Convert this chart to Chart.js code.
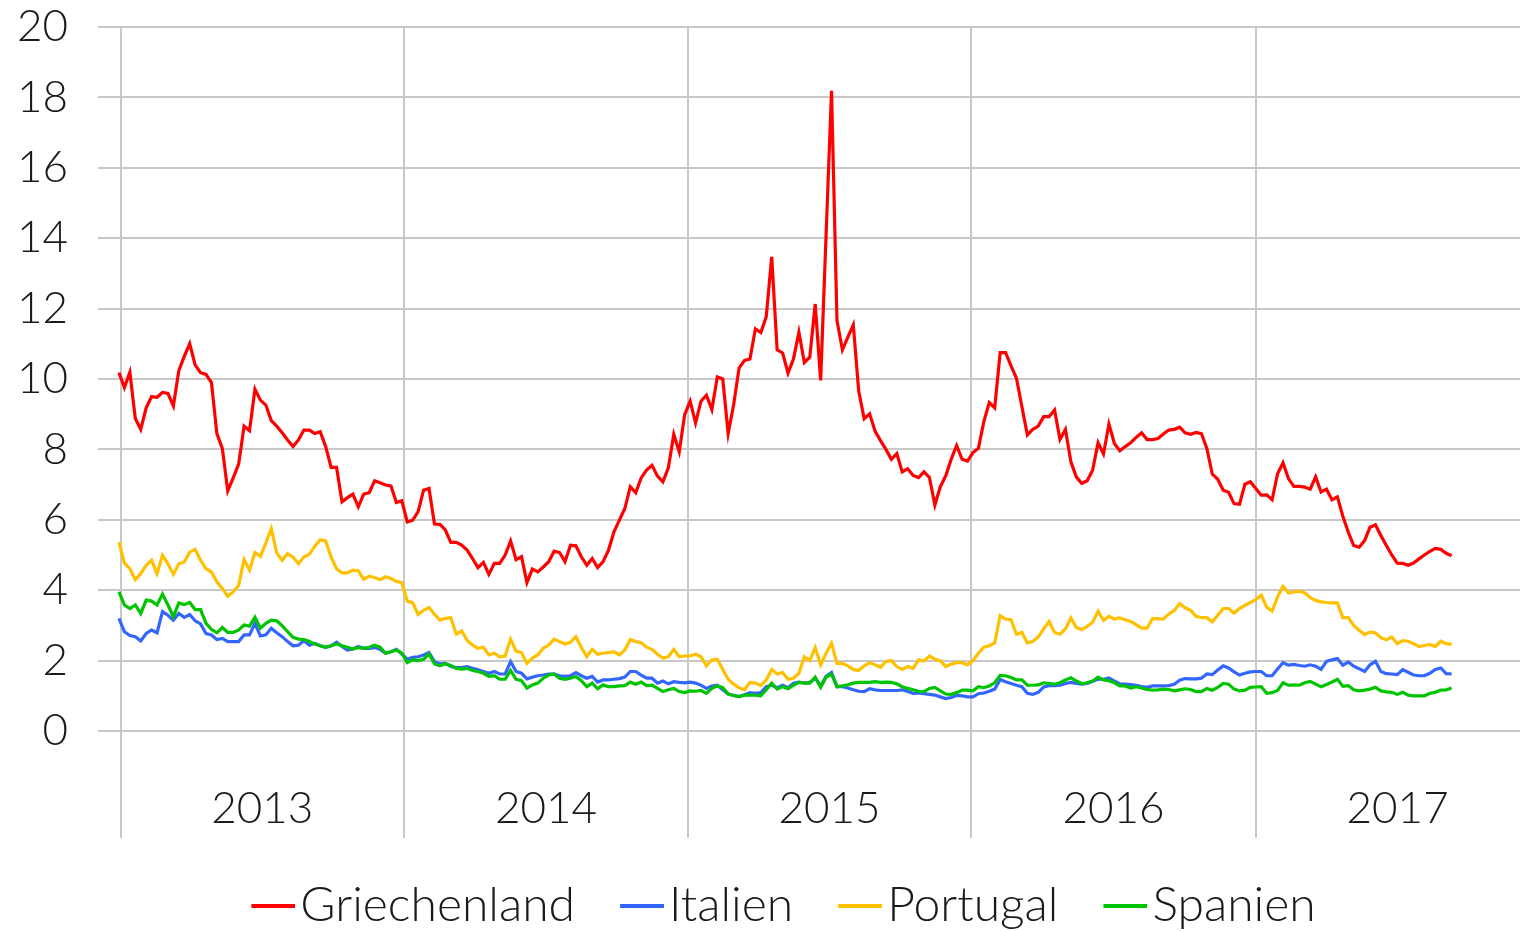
<!DOCTYPE html>
<html>
<head>
<meta charset="utf-8">
<script src="https://cdn.jsdelivr.net/npm/chart.js@4/dist/chart.umd.min.js"></script>
<style>
  html, body { margin: 0; padding: 0; background: #fff; }
  #wrap { width: 1521px; height: 932px; position: relative; }
</style>
</head>
<body>
<div id="wrap"><canvas id="chart"></canvas></div>
<script>
// weekly yields (%), one value per week starting end of Dec 2012
const griechenland = [
  10.18, 9.76, 10.19, 8.88, 8.57, 9.18, 9.50, 9.48, 9.62, 9.59, 9.23, 10.24, 10.64, 11.0, 10.4, 10.18, 10.13, 9.90, 8.45, 8.03,
  6.82, 7.19, 7.58, 8.66, 8.53, 9.71, 9.40, 9.26, 8.82, 8.66, 8.47, 8.27, 8.08, 8.27, 8.55, 8.55, 8.45, 8.50, 8.08, 7.49,
  7.49, 6.51, 6.63, 6.73, 6.37, 6.73, 6.77, 7.11, 7.05, 6.99, 6.96, 6.49, 6.54,
  // 2014
  5.94, 5.99, 6.23, 6.84, 6.89, 5.88, 5.87, 5.71, 5.36, 5.36, 5.28, 5.14, 4.90, 4.64, 4.79, 4.45, 4.76, 4.76, 5.00, 5.40,
  4.87, 4.95, 4.22, 4.60, 4.52, 4.66, 4.81, 5.11, 5.07, 4.81, 5.28, 5.26, 4.95, 4.71, 4.90, 4.64, 4.81, 5.14, 5.66, 5.99,
  6.32, 6.94, 6.77, 7.19, 7.41, 7.55, 7.24, 7.08, 7.48, 8.43, 7.93, 8.99,
  // 2015
  9.37, 8.75, 9.37, 9.54, 9.13, 10.06, 10.0, 8.45, 9.27, 10.31, 10.53, 10.57, 11.42, 11.32, 11.77, 13.47, 10.83, 10.74, 10.17, 10.57,
  11.33, 10.47, 10.62, 12.13, 9.96, 14.1, 18.19, 11.66, 10.83, 11.19, 11.54, 9.65, 8.87, 9.01, 8.52, 8.25, 8.0, 7.72, 7.88, 7.36,
  7.45, 7.26, 7.20, 7.36, 7.20, 6.42, 6.94, 7.25, 7.72, 8.11, 7.72, 7.67,
  // 2016
  7.91, 8.03, 8.79, 9.33, 9.18, 10.75, 10.75, 10.37, 10.02, 9.21, 8.41, 8.57, 8.66, 8.93, 8.93, 9.12, 8.28, 8.57, 7.65, 7.22,
  7.03, 7.11, 7.41, 8.19, 7.87, 8.72, 8.17, 7.96, 8.08, 8.19, 8.34, 8.47, 8.28, 8.28, 8.31, 8.44, 8.55, 8.57, 8.63, 8.47,
  8.43, 8.48, 8.45, 8.03, 7.30, 7.15, 6.84, 6.78, 6.46, 6.44, 7.01, 7.08,
  // 2017
  6.89, 6.70, 6.71, 6.57, 7.31, 7.62, 7.17, 6.95, 6.95, 6.93, 6.87, 7.22, 6.79, 6.87, 6.57, 6.65, 6.10, 5.65, 5.27, 5.22,
  5.41, 5.79, 5.86, 5.55, 5.27, 5.0, 4.77, 4.76, 4.71, 4.77, 4.89, 5.0, 5.10, 5.19, 5.16, 5.05, 4.98,
];

const italien = [
  3.20, 2.82, 2.71, 2.68, 2.56, 2.77, 2.87, 2.79, 3.39, 3.29, 3.15, 3.34, 3.23, 3.31, 3.13, 3.04, 2.77, 2.73, 2.60, 2.63,
  2.54, 2.54, 2.54, 2.73, 2.73, 3.06, 2.70, 2.73, 2.92, 2.79, 2.68, 2.54, 2.42, 2.44, 2.57, 2.44, 2.49, 2.42, 2.38, 2.42,
  2.52, 2.40, 2.30, 2.33, 2.40, 2.35, 2.35, 2.37, 2.32, 2.21, 2.25, 2.32, 2.19,
  // 2014
  2.04, 2.09, 2.11, 2.16, 2.23, 1.97, 1.91, 1.92, 1.83, 1.80, 1.80, 1.83, 1.78, 1.74, 1.69, 1.64, 1.69, 1.62, 1.62, 1.97,
  1.69, 1.64, 1.48, 1.53, 1.57, 1.59, 1.62, 1.62, 1.57, 1.55, 1.57, 1.66, 1.57, 1.50, 1.55, 1.39, 1.45, 1.45, 1.47, 1.49,
  1.53, 1.69, 1.69, 1.59, 1.50, 1.50, 1.36, 1.42, 1.34, 1.40, 1.38, 1.37,
  // 2015
  1.39, 1.36, 1.30, 1.21, 1.28, 1.30, 1.17, 1.05, 1.01, 0.98, 1.03, 1.09, 1.07, 1.09, 1.26, 1.30, 1.23, 1.30, 1.23, 1.36,
  1.39, 1.36, 1.38, 1.50, 1.28, 1.55, 1.66, 1.26, 1.26, 1.22, 1.17, 1.13, 1.12, 1.20, 1.17, 1.15, 1.15, 1.15, 1.15, 1.17,
  1.12, 1.07, 1.08, 1.06, 1.04, 1.02, 0.97, 0.92, 0.95, 1.01, 1.0, 0.97,
  // 2016
  0.97, 1.06, 1.08, 1.13, 1.19, 1.46, 1.40, 1.35, 1.30, 1.26, 1.07, 1.04, 1.10, 1.25, 1.29, 1.29, 1.30, 1.35, 1.38, 1.35,
  1.33, 1.35, 1.41, 1.47, 1.47, 1.51, 1.42, 1.34, 1.33, 1.32, 1.30, 1.26, 1.24, 1.28, 1.28, 1.28, 1.29, 1.33, 1.44, 1.49,
  1.48, 1.48, 1.50, 1.62, 1.60, 1.73, 1.85, 1.79, 1.68, 1.59, 1.64, 1.68,
  // 2017
  1.69, 1.69, 1.57, 1.57, 1.76, 1.94, 1.87, 1.89, 1.86, 1.84, 1.88, 1.84, 1.75, 1.98, 2.02, 2.06, 1.87, 1.96, 1.84, 1.77,
  1.69, 1.88, 1.98, 1.69, 1.63, 1.62, 1.60, 1.74, 1.67, 1.59, 1.57, 1.57, 1.64, 1.75, 1.79, 1.63, 1.62,
];

const portugal = [
  5.37, 4.77, 4.61, 4.30, 4.47, 4.71, 4.85, 4.47, 4.99, 4.75, 4.45, 4.75, 4.80, 5.08, 5.16, 4.85, 4.61, 4.52, 4.24, 4.05,
  3.83, 3.95, 4.14, 4.87, 4.57, 5.07, 4.96, 5.34, 5.75, 5.06, 4.85, 5.04, 4.94, 4.75, 4.94, 5.02, 5.25, 5.43, 5.40, 4.94,
  4.61, 4.49, 4.49, 4.57, 4.55, 4.31, 4.40, 4.36, 4.30, 4.38, 4.33, 4.25, 4.21,
  // 2014
  3.69, 3.64, 3.31, 3.43, 3.51, 3.32, 3.15, 3.20, 3.22, 2.75, 2.84, 2.58, 2.44, 2.35, 2.38, 2.16, 2.21, 2.11, 2.13, 2.61,
  2.27, 2.23, 1.92, 2.07, 2.16, 2.35, 2.44, 2.61, 2.54, 2.47, 2.52, 2.68, 2.37, 2.11, 2.32, 2.18, 2.21, 2.23, 2.25, 2.16,
  2.30, 2.60, 2.54, 2.51, 2.38, 2.32, 2.18, 2.07, 2.11, 2.32, 2.11, 2.13,
  // 2015
  2.13, 2.18, 2.11, 1.85, 2.02, 2.04, 1.75, 1.47, 1.33, 1.23, 1.17, 1.38, 1.36, 1.29, 1.45, 1.75, 1.62, 1.66, 1.47, 1.50,
  1.64, 2.11, 2.0, 2.37, 1.88, 2.21, 2.49, 1.92, 1.92, 1.85, 1.75, 1.72, 1.85, 1.94, 1.88, 1.81, 1.97, 2.0, 1.83, 1.75,
  1.83, 1.78, 2.02, 1.99, 2.13, 2.04, 2.0, 1.83, 1.90, 1.94, 1.94, 1.88,
  // 2016
  2.0, 2.21, 2.38, 2.42, 2.50, 3.28, 3.18, 3.16, 2.75, 2.80, 2.50, 2.54, 2.67, 2.90, 3.11, 2.80, 2.75, 2.90, 3.21, 2.94,
  2.88, 2.97, 3.09, 3.40, 3.14, 3.26, 3.18, 3.21, 3.16, 3.11, 3.02, 2.92, 2.92, 3.19, 3.19, 3.18, 3.32, 3.42, 3.62, 3.50,
  3.43, 3.26, 3.22, 3.22, 3.10, 3.29, 3.48, 3.48, 3.35, 3.48, 3.57, 3.65,
  // 2017
  3.73, 3.86, 3.52, 3.41, 3.81, 4.11, 3.92, 3.95, 3.97, 3.92, 3.79, 3.71, 3.67, 3.65, 3.64, 3.64, 3.22, 3.22, 3.0, 2.86,
  2.74, 2.81, 2.79, 2.65, 2.59, 2.67, 2.48, 2.57, 2.55, 2.48, 2.40, 2.43, 2.46, 2.40, 2.55, 2.48, 2.46,
];

const spanien = [
  3.95, 3.58, 3.48, 3.58, 3.34, 3.72, 3.69, 3.58, 3.89, 3.58, 3.25, 3.64, 3.59, 3.65, 3.45, 3.45, 3.06, 2.89, 2.79, 2.94,
  2.80, 2.80, 2.87, 3.01, 2.98, 3.23, 2.92, 3.06, 3.15, 3.13, 2.99, 2.82, 2.66, 2.61, 2.60, 2.54, 2.47, 2.42, 2.38, 2.42,
  2.47, 2.42, 2.38, 2.33, 2.37, 2.35, 2.38, 2.44, 2.38, 2.21, 2.25, 2.30, 2.21,
  // 2014
  1.94, 2.02, 2.0, 2.04, 2.19, 1.91, 1.85, 1.91, 1.86, 1.78, 1.76, 1.78, 1.72, 1.69, 1.64, 1.55, 1.57, 1.47, 1.47, 1.72,
  1.47, 1.43, 1.22, 1.31, 1.36, 1.50, 1.59, 1.62, 1.50, 1.47, 1.50, 1.55, 1.43, 1.26, 1.36, 1.20, 1.31, 1.26, 1.26, 1.28,
  1.29, 1.39, 1.33, 1.39, 1.29, 1.30, 1.21, 1.12, 1.17, 1.21, 1.12, 1.09,
  // 2015
  1.14, 1.13, 1.15, 1.07, 1.21, 1.28, 1.23, 1.05, 1.01, 0.98, 1.02, 1.02, 1.02, 1.0, 1.17, 1.36, 1.19, 1.26, 1.20, 1.30,
  1.38, 1.36, 1.36, 1.53, 1.24, 1.53, 1.61, 1.26, 1.28, 1.31, 1.36, 1.38, 1.38, 1.38, 1.40, 1.38, 1.39, 1.38, 1.34, 1.26,
  1.21, 1.17, 1.13, 1.12, 1.21, 1.24, 1.14, 1.05, 1.04, 1.09, 1.16, 1.16,
  // 2016
  1.14, 1.26, 1.23, 1.28, 1.37, 1.58, 1.57, 1.52, 1.45, 1.45, 1.30, 1.30, 1.31, 1.37, 1.35, 1.33, 1.37, 1.45, 1.51, 1.42,
  1.35, 1.37, 1.42, 1.53, 1.45, 1.43, 1.37, 1.28, 1.28, 1.22, 1.26, 1.22, 1.18, 1.16, 1.17, 1.19, 1.18, 1.14, 1.17, 1.20,
  1.18, 1.12, 1.12, 1.21, 1.16, 1.24, 1.35, 1.33, 1.19, 1.14, 1.16, 1.24,
  // 2017
  1.25, 1.26, 1.07, 1.09, 1.15, 1.37, 1.30, 1.31, 1.30, 1.37, 1.41, 1.33, 1.26, 1.32, 1.39, 1.47, 1.27, 1.29, 1.17, 1.14,
  1.16, 1.19, 1.24, 1.14, 1.11, 1.10, 1.04, 1.10, 1.02, 1.0, 1.0, 1.0, 1.07, 1.10, 1.16, 1.17, 1.22,
];

// x axis works in days since 1 Jan 2013
const firstDay = -2;          // first weekly observation (30 Dec 2012)
const yearStarts = [0, 365, 730, 1095, 1461, 1826];
const yearLabels = ['2013', '2014', '2015', '2016', '2017'];

const seriesNames = ['Griechenland', 'Italien', 'Portugal', 'Spanien'];
const seriesValues = [griechenland, italien, portugal, spanien];
const seriesColors = ['#ff0000', '#3366ff', '#ffc000', '#00c400'];

const FAMILY = "Lato, 'Open Sans', sans-serif";
const AXIS_FONT = { family: FAMILY, size: 44, weight: 300 };
const LEGEND_FONT = { family: FAMILY, size: 48, weight: 300 };
const TEXT = '#1a1a1a';
const GRID = '#c8c8c8';

const days = griechenland.map((_, i) => firstDay + 7 * i);

// tick positions: year boundaries (grid lines) and mid-years (labels)
const boundaryTicks = yearStarts.slice(0, 5);
const midTicks = yearLabels.map((_, i) => (yearStarts[i] + yearStarts[i + 1]) / 2);
const labelAt = new Map(midTicks.map((v, i) => [v, yearLabels[i]]));

// legend swatch: short line that sits right next to its text
function swatch(color) {
  const c = document.createElement('canvas');
  c.width = 60;
  c.height = 6;
  const g = c.getContext('2d');
  g.fillStyle = color;
  g.fillRect(16, 1, 44, 4);
  return c;
}

const datasets = seriesNames.map((name, s) => ({
  label: name,
  data: seriesValues[s].map((v, i) => ({ x: days[i], y: v })),
  borderColor: seriesColors[s],
  backgroundColor: seriesColors[s],
  borderWidth: 3.2,
  pointRadius: 0,
  pointStyle: swatch(seriesColors[s]),
  tension: 0,
  order: seriesNames.length - s,
}));

new Chart(document.getElementById('chart'), {
  type: 'line',
  data: { datasets },
  options: {
    responsive: true,
    maintainAspectRatio: false,
    animation: false,
    // left padding + 48px y axis keeps the plot at x=98 and centres the legend like the original
    layout: { padding: { top: 27, right: 1, left: 50, bottom: 0 } },
    plugins: {
      tooltip: { enabled: false },
      legend: {
        position: 'bottom',
        maxHeight: 98,
        labels: {
          usePointStyle: true,
          pointStyleWidth: 22,
          boxHeight: 6,
          padding: 48,
          font: LEGEND_FONT,
          color: TEXT,
          sort: (a, b) => a.datasetIndex - b.datasetIndex,
        },
      },
    },
    scales: {
      x: {
        type: 'linear',
        min: -29,
        max: 1801,
        afterBuildTicks: (axis) => {
          axis.ticks = [...boundaryTicks, ...midTicks]
            .sort((a, b) => a - b)
            .map((v) => ({ value: v }));
        },
        afterFit: (scale) => { scale.height = 103; },
        border: { display: false },
        grid: {
          color: (ctx) => (ctx.tick && labelAt.has(ctx.tick.value) ? 'rgba(0,0,0,0)' : GRID),
          lineWidth: 2,
          drawTicks: true,
          tickLength: 107,
        },
        ticks: {
          autoSkip: false,
          maxRotation: 0,
          padding: -56,
          font: AXIS_FONT,
          color: TEXT,
          callback: (value) => labelAt.get(value) || '',
        },
      },
      y: {
        min: 0,
        max: 20,
        afterFit: (scale) => {
          scale.width = 48;
          scale.paddingTop = 0;
          scale.paddingBottom = 0;
        },
        border: { display: false },
        grid: { color: GRID, lineWidth: 2, drawTicks: false, tickLength: 0 },
        // mirrored + far alignment: right-aligned labels placed left of the plot, not clipped to the thin axis box
        ticks: { stepSize: 2, mirror: true, crossAlign: 'far', padding: -81, font: AXIS_FONT, color: TEXT },
      },
    },
  },
});
</script>
</body>
</html>
